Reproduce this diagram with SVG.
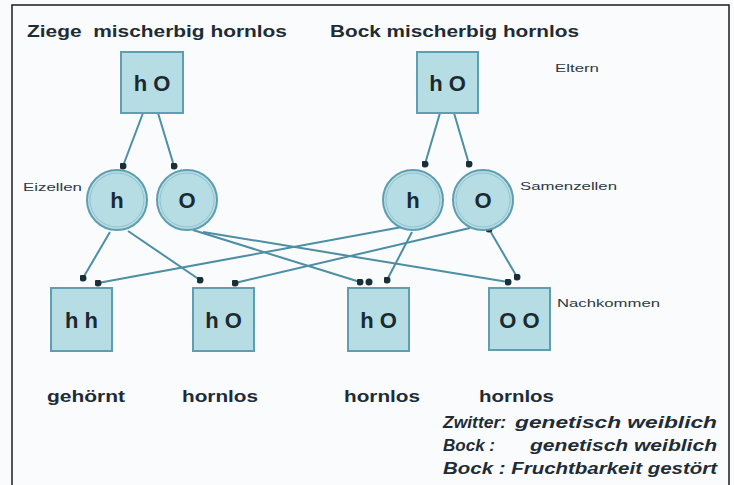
<svg xmlns="http://www.w3.org/2000/svg" width="734" height="485" viewBox="0 0 734 485">
<defs>
<style>
.bg{fill:#f9fbfc}
.frame{fill:none;stroke:#2a2a2a;stroke-width:1.6}
.box{fill:#b6dde4;stroke:#5f9db0;stroke-width:2}
.cell{fill:#b6dde4;stroke:#5f9db0;stroke-width:2}
.ring{fill:none;stroke:#8fc3cf;stroke-width:1}
.sym{font-family:"Liberation Sans",Arial,sans-serif;font-weight:bold;font-size:22px;fill:#1b2a31;text-anchor:middle}
.title{font-family:"Liberation Sans",Arial,sans-serif;font-weight:bold;font-size:16px;fill:#1f2c36}
.small{font-family:"Liberation Sans",Arial,sans-serif;font-size:11px;fill:#2d3a44}
.note{font-family:"Liberation Sans",Arial,sans-serif;font-weight:bold;font-style:italic;font-size:16px;fill:#1f2c36}
.conn line{stroke:#4d8ea5;stroke-width:2;marker-end:url(#dot)}
</style>
<marker id="dot" viewBox="0 0 8 8" refX="4" refY="4" markerWidth="7" markerHeight="7" markerUnits="userSpaceOnUse">
<circle cx="4" cy="4" r="4" fill="#1c2e38"/>
</marker>
</defs>
<rect class="bg" x="0" y="0" width="734" height="485"/>
<rect class="frame" x="12" y="5" width="717" height="500"/>

<text class="title" x="27" y="37" textLength="260" lengthAdjust="spacingAndGlyphs" xml:space="preserve">Ziege  mischerbig hornlos</text>
<text class="title" x="330" y="37" textLength="249" lengthAdjust="spacingAndGlyphs">Bock mischerbig hornlos</text>
<text class="small" x="555" y="72" textLength="44" lengthAdjust="spacingAndGlyphs">Eltern</text>
<text class="small" x="23" y="191" textLength="59" lengthAdjust="spacingAndGlyphs">Eizellen</text>
<text class="small" x="520" y="190" textLength="97" lengthAdjust="spacingAndGlyphs">Samenzellen</text>
<text class="small" x="557" y="307" textLength="103" lengthAdjust="spacingAndGlyphs">Nachkommen</text>

<g class="conn" id="connectors">
<line x1="143" y1="113" x2="123" y2="166"/>
<line x1="158" y1="113" x2="174" y2="166"/>
<line x1="440" y1="113" x2="425" y2="164"/>
<line x1="454" y1="113" x2="469" y2="164"/>
<line x1="110" y1="232" x2="83" y2="278"/>
<line x1="128" y1="231" x2="200" y2="280"/>
<line x1="193" y1="230" x2="360" y2="282"/>
<line x1="203" y1="232" x2="508" y2="282"/>
<line x1="402" y1="227" x2="98" y2="283"/>
<line x1="412" y1="232" x2="387" y2="280"/>
<line x1="470" y1="228" x2="235" y2="283"/>
<line x1="489" y1="229" x2="517" y2="277" style="marker-start:url(#dot)"/>
<circle cx="369" cy="282" r="3.5" fill="#1c2e38"/>
</g>

<g id="parent-ziege"><rect class="box" x="121" y="52" width="62" height="61"/><text class="sym" x="152" y="91">h O</text></g>
<g id="parent-bock"><rect class="box" x="417" y="52" width="61" height="61"/><text class="sym" x="447.5" y="91">h O</text></g>

<g id="egg-h"><circle class="cell" cx="117" cy="200" r="30"/><circle class="ring" cx="117" cy="200" r="27"/><text class="sym" x="117" y="208">h</text></g>
<g id="egg-o"><circle class="cell" cx="187" cy="200" r="30"/><circle class="ring" cx="187" cy="200" r="27"/><text class="sym" x="187" y="208">O</text></g>
<g id="sperm-h"><circle class="cell" cx="413" cy="200" r="30"/><circle class="ring" cx="413" cy="200" r="27"/><text class="sym" x="413" y="208">h</text></g>
<g id="sperm-o"><circle class="cell" cx="483" cy="200" r="30"/><circle class="ring" cx="483" cy="200" r="27"/><text class="sym" x="483" y="208">O</text></g>

<g id="child-hh"><rect class="box" x="51" y="288" width="61" height="63"/><text class="sym" x="81.5" y="328">h h</text></g>
<g id="child-ho1"><rect class="box" x="193" y="288" width="61" height="63"/><text class="sym" x="223.5" y="328">h O</text></g>
<g id="child-ho2"><rect class="box" x="348" y="288" width="61" height="63"/><text class="sym" x="378.5" y="328">h O</text></g>
<g id="child-oo"><rect class="box" x="489" y="288" width="61" height="62"/><text class="sym" x="519.5" y="328">O O</text></g>

<text class="title" x="47" y="402" textLength="78" lengthAdjust="spacingAndGlyphs">gehörnt</text>
<text class="title" x="182" y="402" textLength="76" lengthAdjust="spacingAndGlyphs">hornlos</text>
<text class="title" x="344" y="402" textLength="76" lengthAdjust="spacingAndGlyphs">hornlos</text>
<text class="title" x="479" y="402" textLength="75" lengthAdjust="spacingAndGlyphs">hornlos</text>

<text class="note" x="443" y="428" textLength="63" lengthAdjust="spacingAndGlyphs">Zwitter:</text>
<text class="note" x="515" y="428" textLength="202" lengthAdjust="spacingAndGlyphs">genetisch weiblich</text>
<text class="note" x="443" y="451" textLength="52" lengthAdjust="spacingAndGlyphs">Bock :</text>
<text class="note" x="530" y="451" textLength="187" lengthAdjust="spacingAndGlyphs">genetisch weiblich</text>
<text class="note" x="443" y="474" textLength="274" lengthAdjust="spacingAndGlyphs">Bock : Fruchtbarkeit gestört</text>
</svg>
